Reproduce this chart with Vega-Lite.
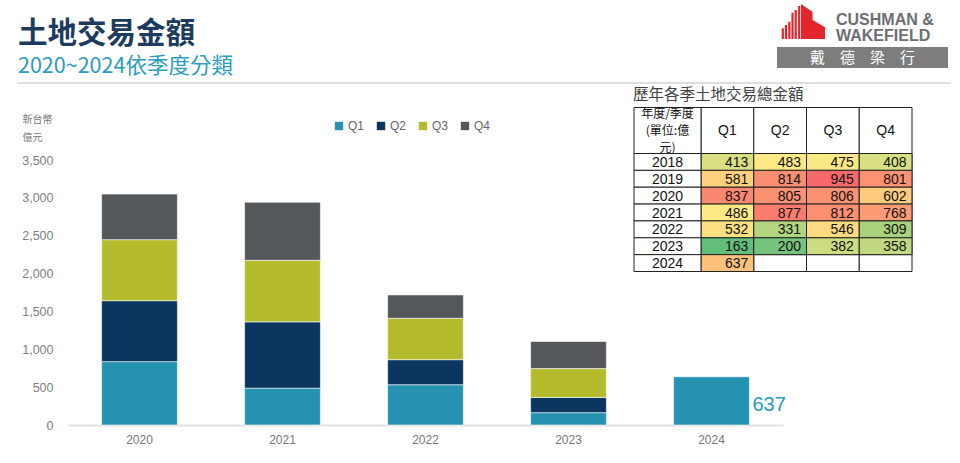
{
  "$schema": "https://vega.github.io/schema/vega-lite/v6.json",
  "width": 960,
  "height": 463,
  "autosize": {"type": "none"},
  "padding": 0,
  "background": "white",
  "title": {
    "text": "土地交易金額",
    "subtitle": "2020~2024依季度分類",
    "anchor": "start",
    "frame": "group",
    "orient": "top",
    "offset": -78,
    "dx": 18,
    "font": "Noto Sans CJK TC",
    "fontSize": 29.5,
    "fontWeight": "bold",
    "color": "#1d3b5e",
    "subtitleFont": "Noto Sans CJK TC",
    "subtitleFontSize": 21.5,
    "subtitleColor": "#2c9cc0",
    "subtitlePadding": 6
  },
  "config": {
    "view": {"stroke": null},
    "axis": {"grid": false},
    "font": "Liberation Sans"
  },
  "datasets": {
    "d": [
      {"year": "2018", "quarter": "Q1", "value": 413},
      {"year": "2018", "quarter": "Q2", "value": 483},
      {"year": "2018", "quarter": "Q3", "value": 475},
      {"year": "2018", "quarter": "Q4", "value": 408},
      {"year": "2019", "quarter": "Q1", "value": 581},
      {"year": "2019", "quarter": "Q2", "value": 814},
      {"year": "2019", "quarter": "Q3", "value": 945},
      {"year": "2019", "quarter": "Q4", "value": 801},
      {"year": "2020", "quarter": "Q1", "value": 837},
      {"year": "2020", "quarter": "Q2", "value": 805},
      {"year": "2020", "quarter": "Q3", "value": 806},
      {"year": "2020", "quarter": "Q4", "value": 602},
      {"year": "2021", "quarter": "Q1", "value": 486},
      {"year": "2021", "quarter": "Q2", "value": 877},
      {"year": "2021", "quarter": "Q3", "value": 812},
      {"year": "2021", "quarter": "Q4", "value": 768},
      {"year": "2022", "quarter": "Q1", "value": 532},
      {"year": "2022", "quarter": "Q2", "value": 331},
      {"year": "2022", "quarter": "Q3", "value": 546},
      {"year": "2022", "quarter": "Q4", "value": 309},
      {"year": "2023", "quarter": "Q1", "value": 163},
      {"year": "2023", "quarter": "Q2", "value": 200},
      {"year": "2023", "quarter": "Q3", "value": 382},
      {"year": "2023", "quarter": "Q4", "value": 358},
      {"year": "2024", "quarter": "Q1", "value": 637},
      {"year": "2024", "quarter": "Q2", "value": null},
      {"year": "2024", "quarter": "Q3", "value": null},
      {"year": "2024", "quarter": "Q4", "value": null}
    ],
    "logoStripes": [
      {"x": 1, "h": 10.7},
      {"x": 5, "h": 14},
      {"x": 9.3, "h": 17.3},
      {"x": 13.3, "h": 26.3},
      {"x": 17.3, "h": 29},
      {"x": 21.7, "h": 33}
    ],
    "logoBlock": [
      {"x": 24, "h": 35},
      {"x": 35.5, "h": 27.3},
      {"x": 35.6, "h": 19},
      {"x": 48, "h": 11.7}
    ]
  },
  "resolve": {"scale": {"x": "independent", "y": "independent", "color": "independent"}},
  "layer": [
    {
      "data": {"values": [{"a": 0}]},
      "mark": {"type": "rule", "color": "#d3d3d3", "strokeWidth": 1.5},
      "encoding": {
        "x": {"datum": 0, "type": "quantitative", "scale": {"domain": [0, 1], "range": [17, 951]}, "axis": null},
        "x2": {"datum": 1},
        "y": {"datum": 0, "type": "quantitative", "scale": {"domain": [0, 1], "range": [83, 84]}, "axis": null}
      }
    },
    {
      "data": {"name": "d"},
      "transform": [{"filter": "datum.value != null && datum.year >= '2020'"}],
      "mark": {"type": "bar", "stroke": "#ffffff", "strokeWidth": 0.6},
      "encoding": {
        "x": {
          "field": "year", "type": "nominal",
          "scale": {"domain": ["2020", "2021", "2022", "2023", "2024"], "range": [68, 783], "paddingInner": 0.47, "paddingOuter": 0.235},
          "axis": {"title": null, "labelAngle": 0, "orient": "bottom", "offset": -38, "domainColor": "#e3e3e3", "domainWidth": 2, "ticks": false, "labelPadding": 9, "labelFontSize": 12, "labelColor": "#777777", "labelFont": "Liberation Sans"}
        },
        "y": {
          "field": "value", "type": "quantitative", "stack": "zero",
          "scale": {"domain": [0, 3500], "range": [425, 160], "nice": false, "zero": true},
          "axis": {
            "values": [0, 500, 1000, 1500, 2000, 2500, 3000, 3500],
            "format": ",.0f",
            "orient": "left",
            "offset": -53,
            "domain": false,
            "ticks": false,
            "labelPadding": 0,
            "labelFontSize": 12.5,
            "labelColor": "#808080",
            "labelFont": "Liberation Sans",
            "title": ["新台幣", "億元"],
            "titleAngle": 0,
            "titleAlign": "left",
            "titleBaseline": "top",
            "titleX": -31,
            "titleY": 114,
            "titleFont": "Noto Sans CJK TC",
            "titleFontSize": 10,
            "titleFontWeight": "normal",
            "titleColor": "#777777",
            "titleLineHeight": 18
          }
        },
        "color": {
          "field": "quarter", "type": "nominal",
          "scale": {"domain": ["Q1", "Q2", "Q3", "Q4"], "range": ["#2492b0", "#0b365f", "#b4bc2e", "#54585b"]},
          "legend": {"orient": "none", "legendX": 333, "legendY": 120, "direction": "horizontal", "title": null, "symbolType": "square", "symbolSize": 70, "symbolStrokeWidth": 0, "labelFontSize": 12, "labelColor": "#666666", "labelFont": "Liberation Sans", "columnPadding": 10, "labelOffset": 3}
        },
        "order": {"field": "quarter", "sort": "ascending"}
      }
    },
    {
      "data": {"name": "d"},
      "transform": [{"filter": "datum.year == '2024' && datum.quarter == 'Q1'"}],
      "mark": {"type": "text", "align": "left", "baseline": "middle", "dx": 41, "dy": 28, "fontSize": 20, "color": "#2a9bbd", "font": "Liberation Sans"},
      "encoding": {
        "x": {"field": "year", "type": "nominal", "scale": {"domain": ["2020", "2021", "2022", "2023", "2024"], "range": [68, 783], "paddingInner": 0.47, "paddingOuter": 0.235}, "axis": null},
        "y": {"field": "value", "type": "quantitative", "scale": {"domain": [0, 3500], "range": [425, 160], "nice": false}, "axis": null},
        "text": {"field": "value", "type": "quantitative"}
      }
    },
    {
      "data": {"values": [{"t": "歷年各季土地交易總金額"}]},
      "mark": {"type": "text", "align": "left", "baseline": "middle", "fontSize": 15.5, "color": "#404040", "font": "Noto Sans CJK TC"},
      "encoding": {
        "x": {"datum": 0, "type": "quantitative", "scale": {"domain": [0, 1], "range": [633, 700]}, "axis": null},
        "y": {"datum": 0, "type": "quantitative", "scale": {"domain": [0, 1], "range": [95, 100]}, "axis": null},
        "text": {"field": "t"}
      }
    },
    {
      "data": {"name": "d"},
      "mark": {"type": "rect", "fill": "white", "stroke": "#222222", "strokeWidth": 1},
      "encoding": {
        "x": {"field": "quarter", "type": "nominal", "scale": {"domain": ["Q1", "Q2", "Q3", "Q4"], "range": [701, 912], "paddingInner": 0, "paddingOuter": 0}, "axis": null},
        "y": {"field": "year", "type": "nominal", "scale": {"domain": ["2018", "2019", "2020", "2021", "2022", "2023", "2024"], "range": [153.5, 271.5], "paddingInner": 0, "paddingOuter": 0}, "axis": null}
      }
    },
    {
      "data": {"name": "d"},
      "transform": [{"filter": "datum.value != null"}],
      "mark": {"type": "rect", "stroke": "#222222", "strokeWidth": 1},
      "encoding": {
        "x": {"field": "quarter", "type": "nominal", "scale": {"domain": ["Q1", "Q2", "Q3", "Q4"], "range": [701, 912], "paddingInner": 0, "paddingOuter": 0}, "axis": null},
        "y": {"field": "year", "type": "nominal", "scale": {"domain": ["2018", "2019", "2020", "2021", "2022", "2023", "2024"], "range": [153.5, 271.5], "paddingInner": 0, "paddingOuter": 0}, "axis": null},
        "color": {"field": "value", "type": "quantitative", "scale": {"domain": [163, 490, 945], "range": ["#63be7b", "#ffeb84", "#f8696b"], "interpolate": "rgb"}, "legend": null}
      }
    },
    {
      "data": {"name": "d"},
      "transform": [{"filter": "datum.value != null"}],
      "mark": {"type": "text", "align": "right", "baseline": "middle", "dx": 21, "dy": 1, "fontSize": 14, "color": "#111111", "font": "Liberation Sans"},
      "encoding": {
        "x": {"field": "quarter", "type": "nominal", "scale": {"domain": ["Q1", "Q2", "Q3", "Q4"], "range": [701, 912], "paddingInner": 0, "paddingOuter": 0}, "axis": null},
        "y": {"field": "year", "type": "nominal", "scale": {"domain": ["2018", "2019", "2020", "2021", "2022", "2023", "2024"], "range": [153.5, 271.5], "paddingInner": 0, "paddingOuter": 0}, "axis": null},
        "text": {"field": "value", "type": "quantitative"}
      }
    },
    {
      "data": {"name": "d"},
      "transform": [{"filter": "datum.quarter == 'Q1'"}],
      "mark": {"type": "rect", "fill": "white", "stroke": "#222222", "strokeWidth": 1},
      "encoding": {
        "x": {"datum": "yr", "type": "nominal", "scale": {"domain": ["yr"], "range": [634, 701], "paddingInner": 0, "paddingOuter": 0}, "axis": null},
        "y": {"field": "year", "type": "nominal", "scale": {"domain": ["2018", "2019", "2020", "2021", "2022", "2023", "2024"], "range": [153.5, 271.5], "paddingInner": 0, "paddingOuter": 0}, "axis": null}
      }
    },
    {
      "data": {"name": "d"},
      "transform": [{"filter": "datum.quarter == 'Q1'"}],
      "mark": {"type": "text", "align": "center", "baseline": "middle", "dy": 1, "fontSize": 14, "color": "#111111", "font": "Liberation Sans"},
      "encoding": {
        "x": {"datum": "yr", "type": "nominal", "scale": {"domain": ["yr"], "range": [634, 701], "paddingInner": 0, "paddingOuter": 0}, "axis": null},
        "y": {"field": "year", "type": "nominal", "scale": {"domain": ["2018", "2019", "2020", "2021", "2022", "2023", "2024"], "range": [153.5, 271.5], "paddingInner": 0, "paddingOuter": 0}, "axis": null},
        "text": {"field": "year"}
      }
    },
    {
      "data": {"name": "d"},
      "transform": [{"filter": "datum.year == '2018'"}],
      "mark": {"type": "rect", "fill": "white", "stroke": "#222222", "strokeWidth": 1},
      "encoding": {
        "x": {"field": "quarter", "type": "nominal", "scale": {"domain": ["Q1", "Q2", "Q3", "Q4"], "range": [701, 912], "paddingInner": 0, "paddingOuter": 0}, "axis": null},
        "y": {"datum": "h", "type": "nominal", "scale": {"domain": ["h"], "range": [107.5, 153.5], "paddingInner": 0, "paddingOuter": 0}, "axis": null}
      }
    },
    {
      "data": {"name": "d"},
      "transform": [{"filter": "datum.year == '2018'"}],
      "mark": {"type": "text", "align": "center", "baseline": "middle", "fontSize": 14, "color": "#111111", "font": "Liberation Sans"},
      "encoding": {
        "x": {"field": "quarter", "type": "nominal", "scale": {"domain": ["Q1", "Q2", "Q3", "Q4"], "range": [701, 912], "paddingInner": 0, "paddingOuter": 0}, "axis": null},
        "y": {"datum": "h", "type": "nominal", "scale": {"domain": ["h"], "range": [107.5, 153.5], "paddingInner": 0, "paddingOuter": 0}, "axis": null},
        "text": {"field": "quarter"}
      }
    },
    {
      "data": {"values": [{"t": "年度/季度\n(單位:億\n元)"}]},
      "mark": {"type": "rect", "fill": "white", "stroke": "#222222", "strokeWidth": 1},
      "encoding": {
        "x": {"datum": "yr", "type": "nominal", "scale": {"domain": ["yr"], "range": [634, 701], "paddingInner": 0, "paddingOuter": 0}, "axis": null},
        "y": {"datum": "h", "type": "nominal", "scale": {"domain": ["h"], "range": [107.5, 153.5], "paddingInner": 0, "paddingOuter": 0}, "axis": null}
      }
    },
    {
      "data": {"values": [{"t": "年度/季度\n(單位:億\n元)"}]},
      "mark": {"type": "text", "align": "center", "baseline": "middle", "dy": -17, "fontSize": 12, "lineHeight": 17, "lineBreak": "\n", "color": "#111111", "font": "Noto Sans CJK TC"},
      "encoding": {
        "x": {"datum": "yr", "type": "nominal", "scale": {"domain": ["yr"], "range": [634, 701], "paddingInner": 0, "paddingOuter": 0}, "axis": null},
        "y": {"datum": "h", "type": "nominal", "scale": {"domain": ["h"], "range": [107.5, 153.5], "paddingInner": 0, "paddingOuter": 0}, "axis": null},
        "text": {"field": "t"}
      }
    },
    {
      "data": {"name": "logoStripes"},
      "mark": {"type": "bar", "color": "#e3262c", "size": 2.2},
      "encoding": {
        "x": {"field": "x", "type": "quantitative", "scale": {"domain": [0, 48], "range": [777, 825]}, "axis": null},
        "y": {"field": "h", "type": "quantitative", "scale": {"domain": [0, 35], "range": [39, 4]}, "axis": null}
      }
    },
    {
      "data": {"name": "logoBlock"},
      "mark": {"type": "area", "color": "#e3262c", "interpolate": "linear"},
      "encoding": {
        "x": {"field": "x", "type": "quantitative", "scale": {"domain": [0, 48], "range": [777, 825]}, "axis": null},
        "y": {"field": "h", "type": "quantitative", "scale": {"domain": [0, 35], "range": [39, 4]}, "axis": null}
      }
    },
    {
      "data": {"values": [{"t": "CUSHMAN &"}, {"t": "WAKEFIELD"}]},
      "mark": {"type": "text", "align": "left", "baseline": "middle", "fontSize": 16, "fontWeight": "bold", "color": "#6d6e71", "font": "Liberation Sans"},
      "encoding": {
        "x": {"datum": 0, "type": "quantitative", "scale": {"domain": [0, 1], "range": [836, 948]}, "axis": null},
        "y": {"field": "t", "type": "nominal", "scale": {"domain": ["CUSHMAN &", "WAKEFIELD"], "range": [11.5, 43.5], "paddingInner": 0, "paddingOuter": 0}, "axis": null},
        "text": {"field": "t"}
      }
    },
    {
      "data": {"values": [{"t": "戴　德　梁　行"}]},
      "mark": {"type": "rect", "color": "#7d7d7d"},
      "encoding": {
        "x": {"datum": 0, "type": "quantitative", "scale": {"domain": [0, 1], "range": [777, 948]}, "axis": null},
        "x2": {"datum": 1},
        "y": {"datum": 0, "type": "quantitative", "scale": {"domain": [0, 1], "range": [47, 68]}, "axis": null},
        "y2": {"datum": 1}
      }
    },
    {
      "data": {"values": [{"t": "戴　德　梁　行"}]},
      "mark": {"type": "text", "align": "center", "baseline": "middle", "fontSize": 15, "color": "#ffffff", "font": "Noto Sans CJK TC"},
      "encoding": {
        "x": {"datum": 0.5, "type": "quantitative", "scale": {"domain": [0, 1], "range": [777, 948]}, "axis": null},
        "y": {"datum": 0.5, "type": "quantitative", "scale": {"domain": [0, 1], "range": [47, 68]}, "axis": null},
        "text": {"field": "t"}
      }
    }
  ]
}
